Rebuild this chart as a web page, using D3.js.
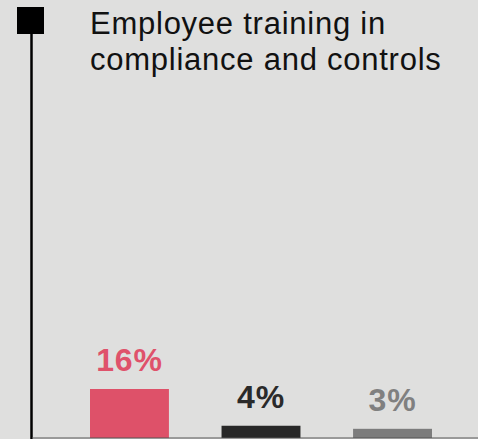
<!DOCTYPE html>
<html>
<head>
<meta charset="utf-8">
<script src="https://cdn.jsdelivr.net/npm/d3@7"></script>
<style>
  html, body { margin: 0; padding: 0; background: #dfdfde; }
  svg { display: block; }
</style>
</head>
<body>
<svg id="chart" width="478" height="439"></svg>
<script>
const titleLines = ["Employee training in", "compliance and controls"];
const categories = ["A", "B", "C"];
const values = [16, 4, 3];
const labels = ["16%", "4%", "3%"];
const barColors = ["#de5169", "#282828", "#7c7c7c"];
const labelColors = ["#df526b", "#2a2a2a", "#808080"];

const svg = d3.select("#chart");
const W = 478, H = 439;
svg.append("rect").attr("width", W).attr("height", H).attr("fill", "#dfdfde");

const x = d3.scaleBand().domain(categories).range([90, 432]).paddingInner(0.4).paddingOuter(0);
const y = d3.scaleLinear().domain([0, 16]).range([438, 389]);

// vertical line and square marker
svg.append("line").attr("x1", 31.5).attr("x2", 31.5).attr("y1", 30).attr("y2", 439)
  .attr("stroke", "#000").attr("stroke-width", 2.5);
svg.append("rect").attr("x", 17).attr("y", 7).attr("width", 27).attr("height", 27).attr("fill", "#000");

// title
const t = svg.append("text").attr("x", 90).attr("y", 34)
  .attr("font-family", "Liberation Sans, Arial, Helvetica, sans-serif")
  .attr("font-size", 31).attr("letter-spacing", 0.75).attr("fill", "#111");
titleLines.forEach((l, i) => t.append("tspan").attr("x", 90).attr("y", 34 + i * 36).text(l));

// bars
svg.selectAll("rect.bar").data(values).join("rect").attr("class", "bar")
  .attr("x", (d, i) => x(categories[i]))
  .attr("width", x.bandwidth())
  .attr("y", d => y(d))
  .attr("height", d => y(0) - y(d))
  .attr("fill", (d, i) => barColors[i]);

// labels
svg.selectAll("text.lbl").data(values).join("text").attr("class", "lbl")
  .attr("x", (d, i) => x(categories[i]) + x.bandwidth() / 2)
  .attr("y", d => y(d) - 18)
  .attr("text-anchor", "middle")
  .attr("font-family", "Liberation Sans, Arial, Helvetica, sans-serif")
  .attr("font-weight", "bold").attr("font-size", 32).attr("letter-spacing", 0.8)
  .attr("fill", (d, i) => labelColors[i])
  .text((d, i) => labels[i]);

// baseline
svg.append("line").attr("x1", 32).attr("x2", W).attr("y1", 438).attr("y2", 438)
  .attr("stroke", "#555").attr("stroke-width", 1);
</script>
</body>
</html>
